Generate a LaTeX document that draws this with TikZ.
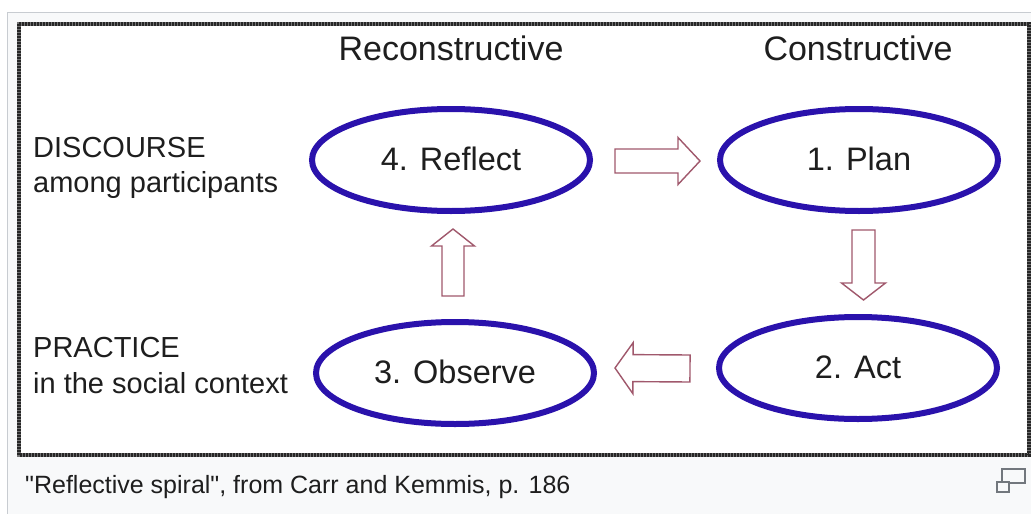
\documentclass[tikz,border=0pt]{standalone}
\usepackage{fontspec}
\setmainfont{Liberation Sans}
% same face without TeX ligatures, so straight quotes stay straight
\newfontfamily\plainsans{Liberation Sans}
\usetikzlibrary{shapes.geometric,calc}

\definecolor{pagebg}{RGB}{248,249,250}
\definecolor{framegray}{RGB}{200,204,209}
\definecolor{stageblue}{RGB}{42,18,172}
\definecolor{arrowrose}{RGB}{160,88,108}
\definecolor{inkgray}{RGB}{30,30,30}
\definecolor{icongray}{RGB}{114,119,125}

% outlined block arrow: from, to, shaft half-width, head half-width, head length
\newcommand{\blockarrow}[5]{%
  \coordinate (ba-neck) at ($(#2)!#5!(#1)$);
  \draw[hollowarrow]
    ($(#1)!#3!90:(#2)$) -- ($(ba-neck)!#3!90:(#2)$) -- ($(ba-neck)!#4!90:(#2)$)
    -- (#2) -- ($(ba-neck)!#4!-90:(#2)$) -- ($(ba-neck)!#3!-90:(#2)$)
    -- ($(#1)!#3!-90:(#2)$) -- cycle;
}

\begin{document}
\begin{tikzpicture}[x=1pt,y=-1pt,
  stage/.style={ellipse, draw=stageblue, line width=6pt, minimum width=278pt,
    minimum height=102pt, inner sep=0pt, text=inkgray, text height=20pt, text depth=0pt,
    font=\fontsize{32.5}{38}\selectfont},
  heading/.style={anchor=base, inner sep=0pt, text=inkgray, font=\fontsize{34}{40}\selectfont},
  sidelabel/.style={anchor=base west, inner sep=0pt, text=inkgray, font=\fontsize{29}{34}\selectfont},
  caption/.style={anchor=base west, inner sep=0pt, text=inkgray, font=\plainsans\fontsize{25}{30}\selectfont},
  hollowarrow/.style={draw=arrowrose, line width=1.4pt, fill=white, line join=miter},
  iconbox/.style={draw=icongray, line width=2pt, fill=pagebg}
]
\useasboundingbox (0,0) rectangle (1031,514);
\clip (0,0) rectangle (1031,514);

% page and thumbnail frame
\fill[white] (0,0) rectangle (1031,514);
\draw[framegray, fill=pagebg, line width=1pt] (7.5,12.5) rectangle (1045,530);

% figure panel with its textured dark border
\fill[white] (19,24) rectangle (1029,455);
\draw[black!55, line width=3.6pt] (19,24) rectangle (1029,455);
\draw[black!85, line width=3.6pt, dash pattern=on 2pt off 1pt] (19,24) rectangle (1029,455);

% column headings
\node[heading] (hrecon) at (451,60) {Reconstructive};
\node[heading] (hcons) at (858,60) {Constructive};

% row labels
\node[sidelabel] (discourse) at (33,157) {DISCOURSE};
\node[sidelabel] (among) at (33,192) {among participants};
\node[sidelabel] (practice) at (33,357) {PRACTICE};
\node[sidelabel] (social) at (33,393) {in the social context};

% the four stages
\node[stage] (reflect) at (451,160) {4. Reflect};
\node[stage] (plan) at (859,160) {1. Plan};
\node[stage] (observe) at (455,373) {3. Observe};
\node[stage] (act) at (858,368) {2. Act};

% cycle arrows between the stages
\coordinate (rp-from) at ($(reflect.east)+(22,1)$);
\coordinate (rp-to) at ($(plan.west)+(-17,1)$);
\blockarrow{rp-from}{rp-to}{12pt}{23.5pt}{22pt}

\coordinate (pa-from) at ($(plan.south)+(4.5,16)$);
\coordinate (pa-to) at ($(act.north)+(5.5,-14)$);
\blockarrow{pa-from}{pa-to}{11.5pt}{22pt}{17pt}

\coordinate (ao-from) at ($(act.west)+(-26,0.5)$);
\coordinate (ao-to) at ($(observe.east)+(18,-5)$);
\blockarrow{ao-from}{ao-to}{13.5pt}{25.5pt}{18pt}

\coordinate (or-from) at ($(observe.north)+(-2,-23)$);
\coordinate (or-to) at ($(reflect.south)+(2,15)$);
\blockarrow{or-from}{or-to}{11pt}{21.5pt}{17pt}

% caption and enlarge icon
\node[caption] (cap) at (25,493) {"Reflective spiral", from Carr and Kemmis, p. 186};
\draw[iconbox] (1002,469) rectangle (1025,483);
\draw[iconbox] (997,482) rectangle (1009,492);
\end{tikzpicture}
\end{document}
